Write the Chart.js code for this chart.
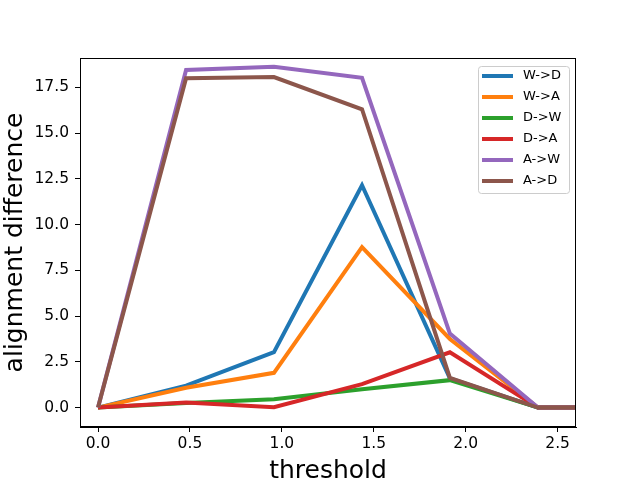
<!DOCTYPE html>
<html>
<head>
<meta charset="utf-8">
<script src="https://cdn.jsdelivr.net/npm/chart.js@4.4.1/dist/chart.umd.min.js"></script>
<style>
  html, body { margin: 0; padding: 0; background: #fff; }
</style>
</head>
<body>
<canvas id="lineChart" width="640" height="480"></canvas>
<script>
// threshold values (last one lies past the axis limit and gets clipped)
const thresholds = [0, 0.479, 0.957, 1.436, 1.914, 2.393, 2.871];

const seriesNames = ['W->D', 'W->A', 'D->W', 'D->A', 'A->W', 'A->D'];
const wToD = [0, 1.2, 3.03, 12.15, 1.6, 0, 0];
const wToA = [0, 1.08, 1.9, 8.77, 3.75, 0, 0];
const dToW = [0, 0.25, 0.45, 1.0, 1.5, 0, 0];
const dToA = [0, 0.28, 0.02, 1.28, 3.02, 0, 0];
const aToW = [0, 18.45, 18.62, 18.02, 4.04, 0, 0];
const aToD = [0, 18.0, 18.06, 16.3, 1.62, 0, 0];

const xTicks = [0, 0.5, 1.0, 1.5, 2.0, 2.5];
const yTicks = [0, 2.5, 5.0, 7.5, 10.0, 12.5, 15.0, 17.5];

const colors = ['#1f77b4', '#ff7f0e', '#2ca02c', '#d62728', '#9467bd', '#8c564b'];
const FONT = "'DejaVu Sans', sans-serif";

const allSeries = [wToD, wToA, dToW, dToA, aToW, aToD];

const datasets = allSeries.map((values, i) => ({
    label: seriesNames[i],
    data: values.map((v, j) => ({ x: thresholds[j], y: v })),
    borderColor: colors[i],
    backgroundColor: colors[i],
    borderWidth: 4,
    pointRadius: 0,
    tension: 0,
    fill: false,
    order: allSeries.length - i // later series drawn on top, like matplotlib
}));

// frame on all four sides + legend box inside the plot
const framePlugin = {
    id: 'frame',
    afterDatasetsDraw(chart) {
        const ctx = chart.ctx;
        const a = chart.chartArea;

        // legend
        const boxW = 91;
        const boxY = a.top + 8, rowH = 21;
        const boxH = rowH * seriesNames.length + 1;
        const boxRight = a.right - 7;
        const left = boxRight - boxW;
        ctx.save();
        ctx.fillStyle = 'rgba(255,255,255,0.8)';
        ctx.strokeStyle = '#cccccc';
        ctx.lineWidth = 1;
        ctx.beginPath();
        ctx.roundRect(left + 0.5, boxY + 0.5, boxW, boxH, 3);
        ctx.fill();
        ctx.stroke();

        ctx.font = '13px ' + FONT;
        ctx.textBaseline = 'middle';
        ctx.textAlign = 'left';
        chart.data.datasets.forEach((ds, i) => {
            const cy = boxY + 10 + i * rowH;
            ctx.strokeStyle = ds.borderColor;
            ctx.lineWidth = 4;
            ctx.beginPath();
            ctx.moveTo(left + 4, cy);
            ctx.lineTo(left + 35, cy);
            ctx.stroke();
            ctx.fillStyle = '#000';
            ctx.fillText(ds.label, left + 45, cy);
        });

        // spines
        ctx.strokeStyle = '#000';
        ctx.lineWidth = 1;
        ctx.strokeRect(Math.round(a.left) + 0.5, Math.round(a.top) + 0.5,
            Math.round(a.right - a.left) - 1, Math.round(a.bottom - a.top) - 1);
        ctx.restore();
    }
};

const ctx = document.getElementById('lineChart').getContext('2d');
const myLineChart = new Chart(ctx, {
    type: 'line',
    data: { datasets: datasets },
    plugins: [framePlugin],
    options: {
        responsive: false,
        animation: false,
        devicePixelRatio: 1,
        layout: { padding: { left: 0, right: 64, top: 58, bottom: 0 } },
        plugins: {
            legend: { display: false },
            tooltip: { enabled: false }
        },
        scales: {
            x: {
                type: 'linear',
                min: -0.098,
                max: 2.6,
                afterBuildTicks: scale => { scale.ticks = xTicks.map(v => ({ value: v })); },
                afterFit: scale => { scale.height = 53; },
                ticks: {
                    callback: v => v.toFixed(1),
                    color: '#000',
                    font: { family: FONT, size: 15.5 },
                    padding: 3,
                    maxRotation: 0
                },
                grid: {
                    drawOnChartArea: false,
                    drawTicks: true,
                    tickLength: 5,
                    tickColor: '#000',
                    color: '#000'
                },
                border: { display: true, color: '#000', width: 1 },
                title: {
                    display: true,
                    text: 'threshold',
                    color: '#000',
                    font: { family: FONT, size: 25 },
                    padding: { top: 0, bottom: -6 }
                }
            },
            y: {
                type: 'linear',
                min: -1.06,
                max: 19.1,
                afterBuildTicks: scale => { scale.ticks = yTicks.map(v => ({ value: v })); },
                afterFit: scale => { scale.width = 80; },
                ticks: {
                    callback: v => v.toFixed(1),
                    color: '#000',
                    font: { family: FONT, size: 15.5 },
                    padding: 6
                },
                grid: {
                    drawOnChartArea: false,
                    drawTicks: true,
                    tickLength: 5,
                    tickColor: '#000',
                    color: '#000'
                },
                border: { display: true, color: '#000', width: 1 },
                title: {
                    display: true,
                    text: 'alignment difference',
                    color: '#000',
                    font: { family: FONT, size: 25 },
                    padding: { top: 0, bottom: 0 }
                }
            }
        }
    }
});
</script>
</body>
</html>
